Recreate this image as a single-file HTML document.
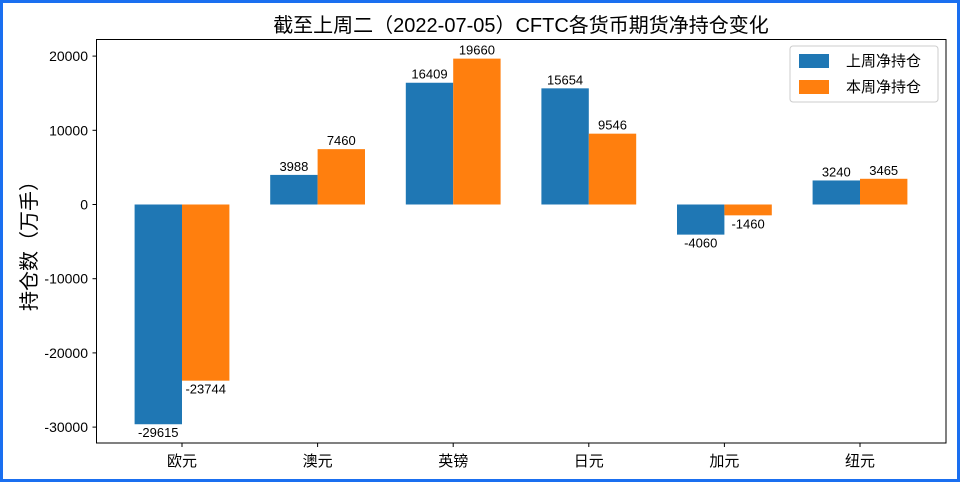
<!DOCTYPE html>
<html><head><meta charset="utf-8"><style>
body{margin:0;background:#fff}
svg text{font-family:"Liberation Sans","Noto Sans CJK SC",sans-serif;fill:#000}
</style></head><body>
<svg id="chart" width="960" height="482" xmlns="http://www.w3.org/2000/svg">
<rect x="1.5" y="1.5" width="957" height="479" fill="#fff" stroke="#1a6ff0" stroke-width="3"/>
<text x="521" y="32" font-size="20" text-anchor="middle">截至上周二（2022-07-05）CFTC各货币期货净持仓变化</text>
<text x="0" y="0" font-size="20" text-anchor="middle" transform="translate(36,241) rotate(-90)">持仓数（万手）</text>
<g id="bars"></g>
<g id="axes"></g>
<rect x="96.5" y="39.5" width="849.5" height="403.5" fill="none" stroke="#000" stroke-width="1"/>
<g>
<rect x="790" y="46" width="148" height="56" fill="#fff" stroke="#ccc" rx="3"/>
<rect x="799" y="54" width="30" height="14" fill="#1f77b4"/>
<text x="846" y="66" font-size="15">上周净持仓</text>
<rect x="799" y="80" width="30" height="14" fill="#ff7f0e"/>
<text x="846" y="92" font-size="15">本周净持仓</text>
</g>
</svg>
<script>
const categories=["欧元","澳元","英镑","日元","加元","纽元"];
const lastWeek=[-29615,3988,16409,15654,-4060,3240];
const thisWeek=[-23744,7460,19660,9546,-1460,3465];
const yTicks=[20000,10000,0,-10000,-20000,-30000];
const NS="http://www.w3.org/2000/svg";
function yS(v){return 204.5-v*0.00742;}
function xS(i){return 182+i*135.6;}
const bw=47.4;
const bars=document.getElementById('bars'),axes=document.getElementById('axes');
function mk(tag,attrs,parent){const e=document.createElementNS(NS,tag);for(const k in attrs)e.setAttribute(k,attrs[k]);parent.appendChild(e);return e;}
function bar(i,v,off,color,name){
  const y0=yS(0),y1=yS(v);
  const r=mk('rect',{x:xS(i)+off,y:Math.min(y0,y1),width:bw,height:Math.abs(y1-y0),fill:color},bars);
  
  
  const t=mk('text',{x:xS(i)+off+bw/2,y:v>=0?y1-4:y1+13,'font-size':13,'text-anchor':'middle'},bars);
  t.textContent=v;
  
  
}
categories.forEach((c,i)=>{
  bar(i,lastWeek[i],-bw,'#1f77b4','bar-last-week-'+i);
  bar(i,thisWeek[i],0,'#ff7f0e','bar-this-week-'+i);
  mk('line',{x1:xS(i),x2:xS(i),y1:443,y2:447,stroke:'#000'},axes);
  const t=mk('text',{x:xS(i),y:466,'font-size':15,'text-anchor':'middle'},axes);
  t.textContent=c;
  
  
});
yTicks.forEach(v=>{
  const y=yS(v);
  mk('line',{x1:92.5,x2:96.5,y1:y,y2:y,stroke:'#000'},axes);
  const t=mk('text',{x:88,y:y+5,'font-size':14,'text-anchor':'end'},axes);
  t.textContent=v;
  
  
});
</script>
</body></html>
